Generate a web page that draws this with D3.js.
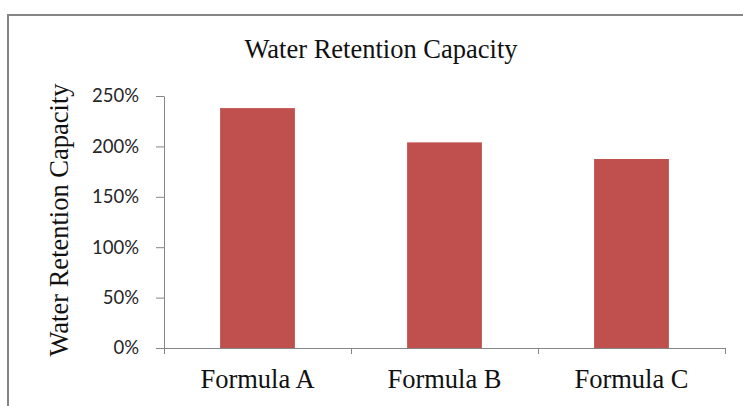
<!DOCTYPE html>
<html>
<head>
<meta charset="utf-8">
<script src="https://cdn.jsdelivr.net/npm/d3@7"></script>
<style>
  body { margin: 0; background: #fff; }
  svg { display: block; }
</style>
</head>
<body>
<svg id="chart" width="743" height="406"></svg>
<script>
const categories = ["Formula A", "Formula B", "Formula C"]
const retention = [2.38, 2.04, 1.875]
const yTicks = [0, 0.5, 1, 1.5, 2, 2.5]

const svg = d3.select("#chart")
const margin = {top: 96, right: 18, bottom: 58, left: 164}
const width = svg.attr("width") - margin.left - margin.right
const height = svg.attr("height") - margin.top - margin.bottom
const serif = "26.5px 'Liberation Serif', 'Times New Roman', serif"

// outer chart frame (clipped at right/bottom like the original)
svg.append("rect")
    .attr("x", 8).attr("y", 15)
    .attr("width", 760).attr("height", 420)
    .attr("fill", "none")
    .attr("stroke", "#858585")
    .attr("stroke-width", 2)

svg.append("text")
    .attr("x", 381)
    .attr("y", 58)
    .attr("text-anchor", "middle")
    .style("font", serif)
    .attr("fill", "#111")
    .text("Water Retention Capacity")

const g = svg.append("g").attr("transform", "translate(" + margin.left + "," + margin.top + ")")

const x = d3.scaleBand().domain(categories).range([0, width]).paddingInner(0.6).paddingOuter(0.3)
const xTick = d3.scaleLinear().domain([0, categories.length]).range([0, width])
const y = d3.scaleLinear().domain([0, 2.5]).range([height, 0])

g.selectAll(".bar")
    .data(retention)
    .enter().append("rect")
    .attr("class", "bar")
    .attr("x", (d, i) => x(categories[i]))
    .attr("y", d => y(d))
    .attr("width", x.bandwidth())
    .attr("height", d => height - y(d))
    .attr("fill", "#c0504d")

// y axis
const yAxis = g.append("g")
    .call(d3.axisLeft(y).tickValues(yTicks).tickFormat(d3.format(".0%")).tickSize(8).tickSizeOuter(0).tickPadding(17))
yAxis.select(".domain").attr("stroke", "#868686")
yAxis.selectAll(".tick line").attr("stroke", "#868686")
yAxis.selectAll(".tick text")
    .style("font", "18.5px Lato, 'Open Sans', sans-serif")
    .attr("fill", "#262626")

// x axis with boundary ticks between categories
const xAxis = g.append("g")
    .attr("transform", "translate(0," + height + ")")
    .call(d3.axisBottom(xTick).tickValues(d3.range(categories.length + 1)).tickFormat("").tickSize(6).tickSizeOuter(0))
xAxis.select(".domain").attr("stroke", "#868686")
xAxis.selectAll(".tick line").attr("stroke", "#868686")

g.selectAll(".cat")
    .data(categories)
    .enter().append("text")
    .attr("class", "cat")
    .attr("x", d => x(d) + x.bandwidth() / 2)
    .attr("y", height + 40)
    .attr("text-anchor", "middle")
    .style("font", serif)
    .attr("fill", "#111")
    .text(d => d)

svg.append("text")
    .attr("transform", "translate(68," + (margin.top + height / 2 - 2) + ") rotate(-90)")
    .attr("text-anchor", "middle")
    .style("font", serif)
    .attr("fill", "#111")
    .text("Water Retention Capacity")
</script>
</body>
</html>
